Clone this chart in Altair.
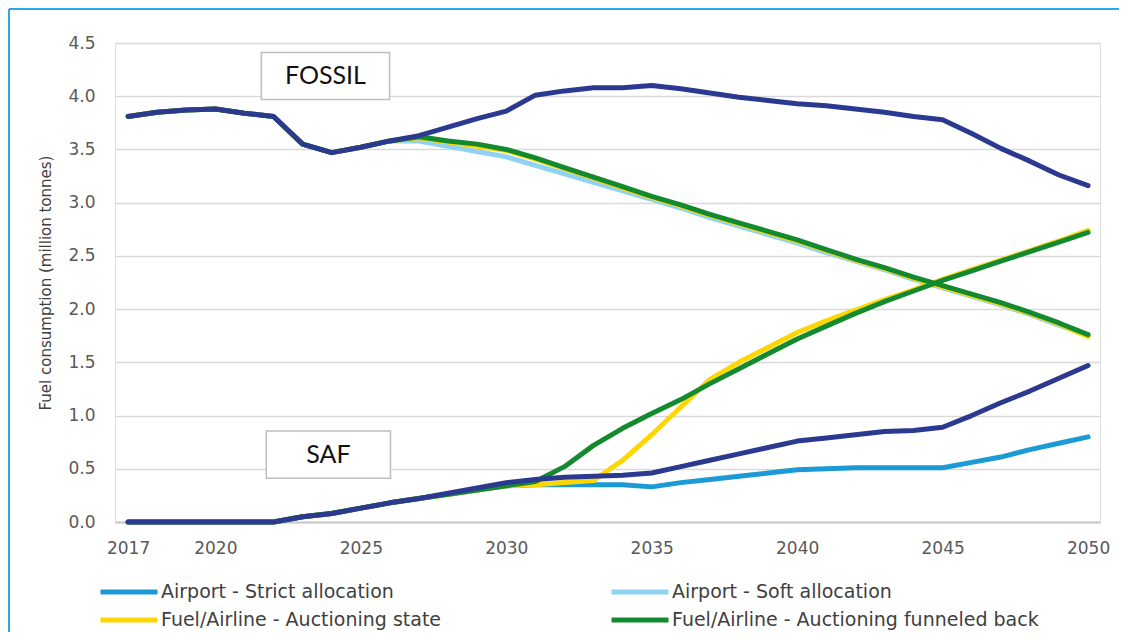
import altair as alt
import pandas as pd

years = list(range(2017, 2051))

# Unlabelled reference scenario (dark navy)
ref_fossil = [3.81, 3.85, 3.87, 3.88, 3.84, 3.81, 3.55, 3.47, 3.52, 3.58,
              3.63, 3.71, 3.79, 3.86, 4.01, 4.05, 4.08, 4.08, 4.10, 4.07,
              4.03, 3.99, 3.96, 3.93, 3.91, 3.88, 3.85, 3.81, 3.78, 3.65,
              3.51, 3.39, 3.26, 3.16]
ref_saf = [0, 0, 0, 0, 0, 0, 0.05, 0.08, 0.13, 0.18,
           0.22, 0.27, 0.32, 0.37, 0.40, 0.42, 0.43, 0.44, 0.46, 0.52,
           0.58, 0.64, 0.70, 0.76, 0.79, 0.82, 0.85, 0.86, 0.89, 1.00,
           1.12, 1.23, 1.35, 1.47]

strict_saf = [0, 0, 0, 0, 0, 0, 0.05, 0.08, 0.13, 0.18,
              0.22, 0.26, 0.30, 0.34, 0.35, 0.35, 0.35, 0.35, 0.33, 0.37,
              0.40, 0.43, 0.46, 0.49, 0.50, 0.51, 0.51, 0.51, 0.51, 0.56,
              0.61, 0.68, 0.74, 0.80]

soft_fossil = [3.81, 3.85, 3.87, 3.88, 3.84, 3.81, 3.55, 3.47, 3.52, 3.58,
               3.58, 3.53, 3.48, 3.43, 3.35, 3.27, 3.19, 3.11, 3.03, 2.95,
               2.86, 2.78, 2.70, 2.62, 2.53, 2.45, 2.37, 2.28, 2.20, 2.12,
               2.04, 1.95, 1.85, 1.75]

state_fossil = [3.81, 3.85, 3.87, 3.88, 3.84, 3.81, 3.55, 3.47, 3.52, 3.58,
                3.61, 3.57, 3.53, 3.49, 3.41, 3.32, 3.23, 3.14, 3.05, 2.97,
                2.88, 2.80, 2.72, 2.64, 2.55, 2.46, 2.38, 2.29, 2.21, 2.13,
                2.05, 1.96, 1.86, 1.74]
state_saf = [0, 0, 0, 0, 0, 0, 0.05, 0.08, 0.13, 0.18,
             0.22, 0.26, 0.30, 0.34, 0.35, 0.37, 0.39, 0.58, 0.82, 1.08,
             1.34, 1.50, 1.64, 1.78, 1.89, 1.99, 2.09, 2.18, 2.28, 2.37,
             2.46, 2.55, 2.64, 2.74]

funnel_fossil = [3.81, 3.85, 3.87, 3.88, 3.84, 3.81, 3.55, 3.47, 3.52, 3.58,
                 3.62, 3.58, 3.55, 3.50, 3.42, 3.33, 3.24, 3.15, 3.06, 2.98,
                 2.89, 2.81, 2.73, 2.65, 2.56, 2.47, 2.39, 2.30, 2.22, 2.14,
                 2.06, 1.97, 1.87, 1.76]
funnel_saf = [0, 0, 0, 0, 0, 0, 0.05, 0.08, 0.13, 0.18,
              0.22, 0.26, 0.30, 0.34, 0.38, 0.52, 0.72, 0.88, 1.02, 1.15,
              1.30, 1.44, 1.58, 1.72, 1.84, 1.96, 2.07, 2.17, 2.27, 2.36,
              2.45, 2.54, 2.63, 2.72]

series_names = ["Airport - Strict allocation", "Airport - Soft allocation",
                "Fuel/Airline - Auctioning state", "Fuel/Airline - Auctioning funneled back"]
series_colors = ["#1B9AD6", "#8FD2F4", "#FFD700", "#148A30"]
ref_color = "#2B3990"

x_ticks = [2017, 2020, 2025, 2030, 2035, 2040, 2045, 2050]

box_labels = ["FOSSIL", "SAF"]
box_x1 = [2021.58, 2021.75]
box_x2 = [2025.99, 2026.02]
box_y1 = [3.97, 0.41]
box_y2 = [4.41, 0.855]


def frame(series, kind, vals):
    return pd.DataFrame({"series": series, "kind": kind, "year": years, "value": vals})


x_scale = alt.Scale(domain=[2016.55, 2050.41], nice=False, zero=False)
y_scale = alt.Scale(domain=[0, 4.5], nice=False)
color_scale = alt.Scale(domain=series_names, range=series_colors)

x_enc = alt.X("year:Q", scale=x_scale,
              axis=alt.Axis(values=x_ticks, format="d", title=None, grid=False, ticks=False,
                            labelFontSize=17, labelColor="#595959", labelPadding=18,
                            labelFont="DejaVu Sans", domainColor="#C8C8C8", domainWidth=2,
                            labelOverlap=False))
y_enc = alt.Y("value:Q", scale=y_scale,
              axis=alt.Axis(values=[i * 0.5 for i in range(10)], format=".1f",
                            title="Fuel consumption (million tonnes)", titleFontSize=15,
                            titleFont="DejaVu Sans", titleColor="#404040", titleFontWeight="normal",
                            titlePadding=14, labelFontSize=17, labelColor="#595959",
                            labelFont="DejaVu Sans", labelPadding=20, ticks=False, domain=False,
                            gridColor="#D9D9D9", gridWidth=1.5))

legend = alt.Legend(orient="none", legendX=2, legendY=537, columns=2, direction="horizontal",
                    title=None,
                    symbolType="M-3,0H3", symbolSize=361, symbolStrokeWidth=5,
                    symbolFillColor="transparent",
                    labelFontSize=19, labelFont="DejaVu Sans", labelColor="#404040",
                    labelOffset=20, labelLimit=700, columnPadding=73, rowPadding=6,
                    gridAlign="all")


def line_layer(dfs, color=None):
    df = pd.concat(dfs, ignore_index=True)
    base = alt.Chart(df).mark_line(strokeWidth=5, strokeJoin="round", strokeCap="round")
    if color is None:
        c = alt.Color("series:N", scale=color_scale, legend=legend)
    else:
        c = alt.value(color)
    return base.encode(x=x_enc, y=y_enc, color=c, detail="kind:N")


border_top = alt.Chart(pd.DataFrame({"a": [0]})).mark_rule(
    stroke="#2AA8E0", strokeWidth=2).encode(
    x=alt.value(-106), x2=alt.value(1004), y=alt.value(-34))
border_left = alt.Chart(pd.DataFrame({"a": [0]})).mark_rule(
    stroke="#2AA8E0", strokeWidth=2).encode(
    x=alt.value(-106), y=alt.value(-34), y2=alt.value(590))

boxes_df = pd.DataFrame({"label": box_labels, "x1": box_x1, "x2": box_x2,
                         "y1": box_y1, "y2": box_y2})
boxes_df["xm"] = (boxes_df["x1"] + boxes_df["x2"]) / 2
boxes_df["ym"] = (boxes_df["y1"] + boxes_df["y2"]) / 2

boxes = alt.Chart(boxes_df).mark_rect(fill="white", stroke="#BFBFBF", strokeWidth=1.5).encode(
    x=alt.X("x1:Q", scale=x_scale), x2="x2:Q",
    y=alt.Y("y1:Q", scale=y_scale), y2="y2:Q")
box_text = alt.Chart(boxes_df).mark_text(font="Lato", fontSize=25, color="#111111",
                                         baseline="middle", align="center").encode(
    x=alt.X("xm:Q", scale=x_scale), y=alt.Y("ym:Q", scale=y_scale), text="label:N")

strict = line_layer([frame(series_names[0], "saf", strict_saf)])
soft = line_layer([frame(series_names[1], "fossil", soft_fossil)])
state = line_layer([frame(series_names[2], "fossil", state_fossil),
                    frame(series_names[2], "saf", state_saf)])
funnel = line_layer([frame(series_names[3], "fossil", funnel_fossil),
                     frame(series_names[3], "saf", funnel_saf)])
ref = line_layer([frame("Reference", "fossil", ref_fossil),
                  frame("Reference", "saf", ref_saf)], color=ref_color)

chart = alt.layer(border_top, border_left, boxes, box_text, strict, soft, state, funnel, ref).properties(
    width=985, height=479,
    autosize=alt.AutoSizeParams(type="none"),
    padding={"left": 107, "top": 35, "right": 20, "bottom": 110},
).configure_view(stroke="#D9D9D9", strokeWidth=1.5).configure(background="white")

chart.save("out.html", embed_options={"renderer": "svg", "actions": False})
